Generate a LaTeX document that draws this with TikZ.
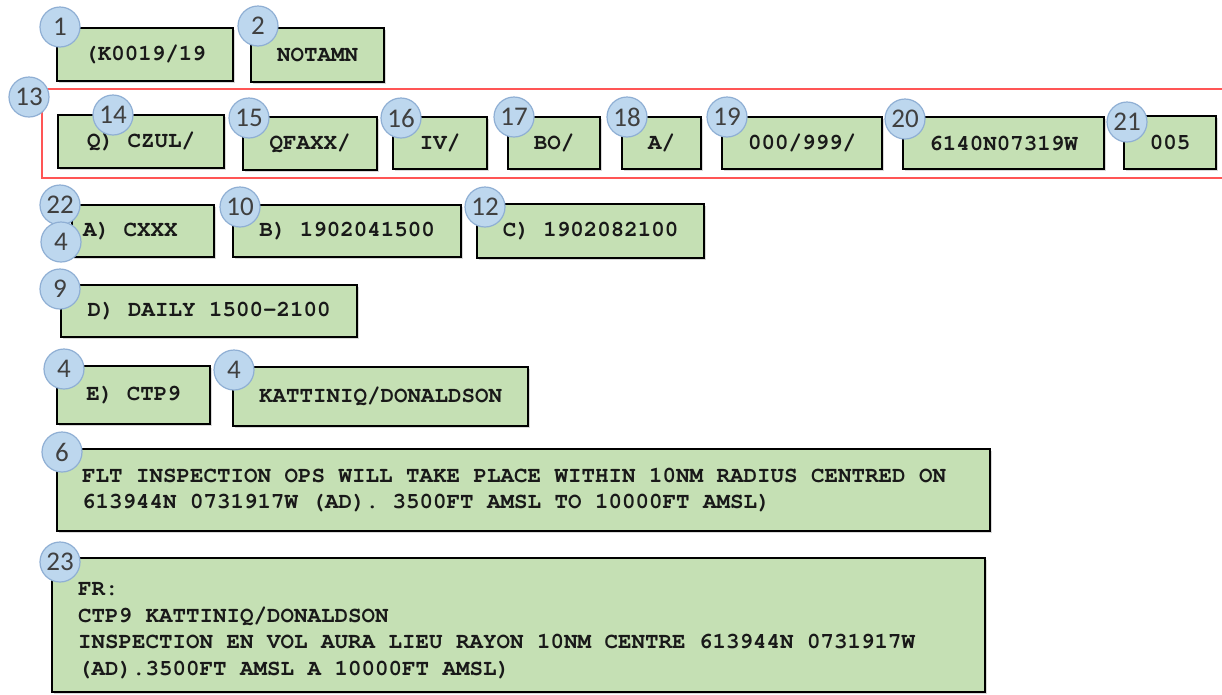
\documentclass[tikz,border=0pt]{standalone}
\usepackage{fontspec}
\newfontfamily\boxfont{TeX Gyre Cursor}
\newfontfamily\numfont{Carlito}
\usetikzlibrary{shadows}
\definecolor{boxgreen}{RGB}{197,224,180}
\definecolor{numfill}{RGB}{189,215,238}
\definecolor{numdraw}{RGB}{143,175,212}
\definecolor{numtext}{RGB}{64,64,64}
\definecolor{qred}{RGB}{255,85,85}
\newcommand\notamfont{\boxfont\bfseries\fontsize{22.5}{26.5}\selectfont}
\begin{document}
\begin{tikzpicture}[x=1pt,y=-1pt,
  notambox/.style={draw=black, line width=2pt, fill=boxgreen, inner sep=0pt,
    font=\notamfont, text=black!90,
    drop shadow={shadow xshift=1.5pt, shadow yshift=-1.5pt, opacity=0.3}},
  boxtext/.style={inner sep=0pt, font=\notamfont, text=black!90, align=left, anchor=west},
  num/.style={circle, draw=numdraw, line width=1.2pt, fill=numfill, minimum size=40pt,
    inner sep=0pt, font=\numfont\fontsize{27}{27}\selectfont, text=numtext},
  qgroup/.style={draw=qred, line width=1.5pt, inner sep=0pt}]
\useasboundingbox (0,0) rectangle (1222,694);
\clip (0,0) rectangle (1222,694);

% Q group frame
\node[qgroup, minimum width=1190pt, minimum height=89pt] (q) at (637,133.5) {};

% boxes
\node[notambox, minimum width=176pt, minimum height=53pt] (b1) at (145,54.5) {(K0019/19};
\node[notambox, minimum width=133pt, minimum height=54pt] (b2) at (317.5,55) {NOTAMN};

\node[notambox, minimum width=166pt, minimum height=53pt] (b14) at (141,141.5) {Q) CZUL/};
\node[notambox, minimum width=134pt, minimum height=53pt] (b15) at (310,143.5) {QFAXX/};
\node[notambox, minimum width=94pt, minimum height=52pt] (b16) at (440,143) {IV/};
\node[notambox, minimum width=92pt, minimum height=52pt] (b17) at (554,143) {BO/};
\node[notambox, minimum width=79pt, minimum height=52pt] (b18) at (661.5,143) {A/};
\node[notambox, minimum width=160pt, minimum height=52pt] (b19) at (802,143) {000/999/};
\node[notambox, minimum width=201pt, minimum height=52pt] (b20) at (1003.5,143) {6140N07319W};
\node[notambox, minimum width=92pt, minimum height=53pt] (b21) at (1170,142.5) {005};

\node[notambox, minimum width=142pt, minimum height=52pt] (bA) at (143,231) {};
\node[boxtext] (bAt) at ([xshift=12pt]bA.west) {A) CXXX};
\node[notambox, minimum width=228pt, minimum height=52pt] (bB) at (347,231) {B) 1902041500};
\node[notambox, minimum width=227pt, minimum height=54pt] (bC) at (590.5,231) {C) 1902082100};

\node[notambox, minimum width=296pt, minimum height=52pt] (bD) at (209,311) {D) DAILY 1500-2100};

\node[notambox, minimum width=153pt, minimum height=58pt] (bE) at (133.5,395) {E) CTP9};
\node[notambox, minimum width=295pt, minimum height=59pt] (bK) at (380.5,396.5) {KATTINIQ/DONALDSON};

\node[notambox, minimum width=933pt, minimum height=82pt] (b6) at (523.5,490) {};
\node[boxtext] (b6t) at ([xshift=26pt]b6.west)
  {FLT INSPECTION OPS WILL TAKE PLACE WITHIN 10NM RADIUS CENTRED ON\\613944N 0731917W (AD). 3500FT AMSL TO 10000FT AMSL)};
\node[notambox, minimum width=933pt, minimum height=134pt] (b23) at (518.5,625) {};
\node[boxtext] (b23t) at ([xshift=27pt,yshift=-5.5pt]b23.west)
  {FR:\\CTP9 KATTINIQ/DONALDSON\\INSPECTION EN VOL AURA LIEU RAYON 10NM CENTRE 613944N 0731917W\\(AD).3500FT AMSL A 10000FT AMSL)};

% number circles
\node[num] (n1) at (60,27) {1};
\node[num] (n2) at (258,26) {2};
\node[num] (n13) at (29,97) {13};
\node[num] (n14) at (113,115) {14};
\node[num] (n15) at (249,118) {15};
\node[num] (n16) at (401,118) {16};
\node[num] (n17) at (514,117) {17};
\node[num] (n18) at (627,117) {18};
\node[num] (n19) at (727,117) {19};
\node[num] (n20) at (905,119) {20};
\node[num] (n21) at (1127,122) {21};
\node[num] (n22) at (60,205) {22};
\node[num] (n4a) at (61,242) {4};
\node[num] (n10) at (240,207) {10};
\node[num] (n12) at (485,207) {12};
\node[num] (n9) at (60,289) {9};
\node[num] (n4b) at (64,369) {4};
\node[num] (n4c) at (234,370) {4};
\node[num] (n6) at (62,452) {6};
\node[num] (n23) at (60,562) {23};
\end{tikzpicture}
\end{document}
